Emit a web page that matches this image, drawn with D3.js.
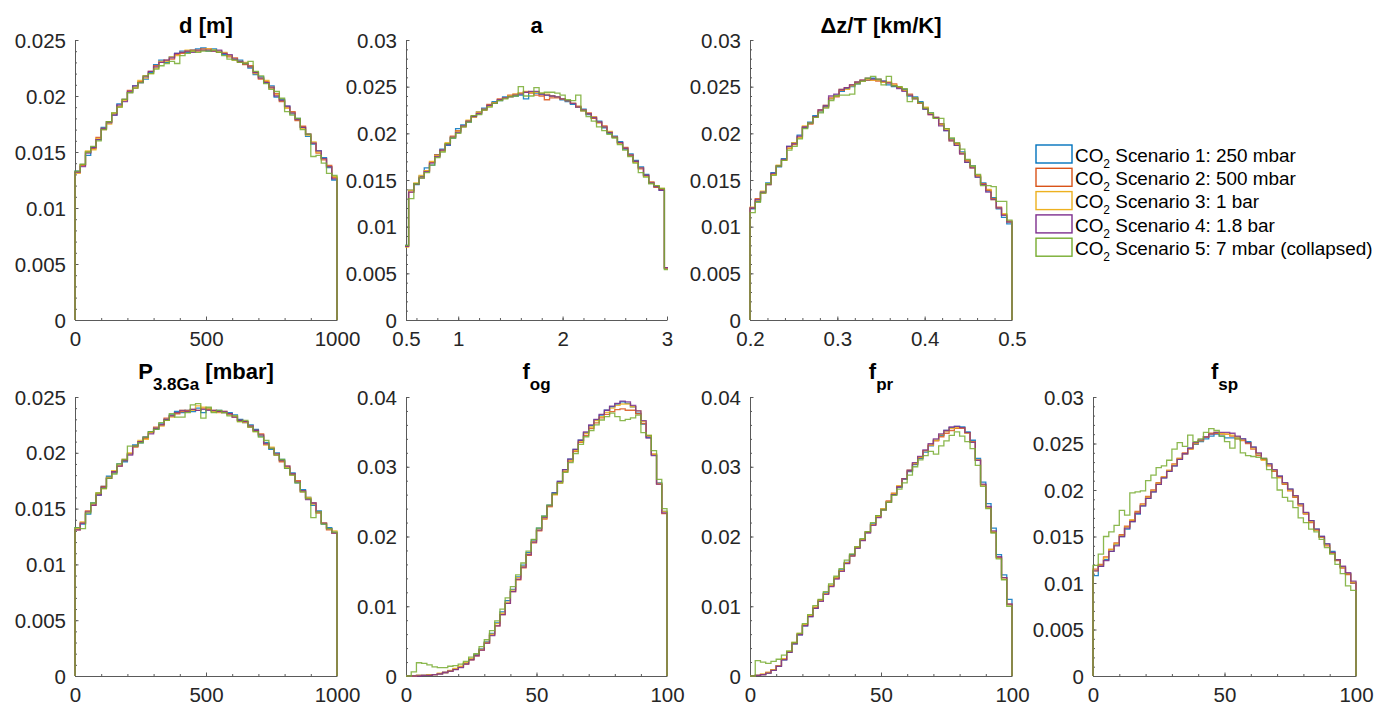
<!DOCTYPE html>
<html><head><meta charset="utf-8">
<script src="https://cdn.jsdelivr.net/npm/d3@7/dist/d3.min.js"></script>
<style>
body{margin:0;background:#fff;}
svg{display:block;font-family:"Liberation Sans",Arial,Helvetica,sans-serif;}
</style></head><body>
<svg id="chart" width="1390" height="710"></svg>
<script>
// ---------- series ----------
const seriesNames = ["Scenario 1: 250 mbar","Scenario 2: 500 mbar","Scenario 3: 1 bar","Scenario 4: 1.8 bar","Scenario 5: 7 mbar (collapsed)"];
const seriesColors = ["#0072BD","#D95319","#EDB120","#7E2F8E","#77AC30"];

// ---------- tick labels ----------
const yTicks025 = [0,0.005,0.01,0.015,0.02,0.025];
const yTicks03 = [0,0.005,0.01,0.015,0.02,0.025,0.03];
const yTicks04 = [0,0.01,0.02,0.03,0.04];
const dXTicks = [0,500,1000];
const aXTicks = [0.5,1,2,3];
const dzXTicks = [0.2,0.3,0.4,0.5];
const fXTicks = [0,50,100];

// ---------- d [m] (bins of 20 from 0) ----------
const d1 = [0.0133,0.0139,0.0147,0.0154,0.0161,0.0172,0.0177,0.0183,0.0193,0.0197,0.0203,0.0209,0.0212,0.0215,0.0221,0.0228,0.0232,0.0230,0.0235,0.0238,0.0240,0.0239,0.0241,0.0242,0.0243,0.0240,0.0242,0.0240,0.0237,0.0236,0.0233,0.0232,0.0229,0.0225,0.0219,0.0217,0.0212,0.0209,0.0199,0.0197,0.0191,0.0184,0.0180,0.0172,0.0164,0.0157,0.0151,0.0145,0.0136,0.0125];
const d2 = [0.0132,0.0138,0.0150,0.0153,0.0163,0.0170,0.0177,0.0184,0.0191,0.0197,0.0205,0.0207,0.0213,0.0218,0.0222,0.0227,0.0230,0.0232,0.0233,0.0237,0.0238,0.0240,0.0241,0.0240,0.0242,0.0242,0.0240,0.0239,0.0238,0.0235,0.0234,0.0230,0.0228,0.0227,0.0221,0.0215,0.0213,0.0207,0.0202,0.0195,0.0190,0.0186,0.0178,0.0173,0.0166,0.0158,0.0149,0.0143,0.0138,0.0127];
const d3v = [0.0131,0.0139,0.0151,0.0152,0.0162,0.0171,0.0175,0.0185,0.0190,0.0196,0.0203,0.0208,0.0214,0.0216,0.0220,0.0225,0.0231,0.0231,0.0235,0.0236,0.0239,0.0241,0.0240,0.0241,0.0241,0.0242,0.0241,0.0240,0.0239,0.0236,0.0232,0.0231,0.0230,0.0226,0.0220,0.0216,0.0214,0.0208,0.0201,0.0196,0.0189,0.0185,0.0179,0.0171,0.0165,0.0159,0.0150,0.0144,0.0137,0.0128];
const d4 = [0.0132,0.0137,0.0149,0.0154,0.0161,0.0171,0.0176,0.0183,0.0192,0.0195,0.0204,0.0209,0.0212,0.0217,0.0222,0.0226,0.0230,0.0232,0.0234,0.0238,0.0239,0.0240,0.0239,0.0241,0.0241,0.0241,0.0240,0.0241,0.0238,0.0237,0.0233,0.0231,0.0229,0.0226,0.0221,0.0216,0.0212,0.0208,0.0200,0.0196,0.0191,0.0185,0.0179,0.0172,0.0166,0.0158,0.0151,0.0144,0.0137,0.0126];
const d5 = [0.0133,0.0139,0.0150,0.0155,0.0160,0.0170,0.0177,0.0185,0.0190,0.0197,0.0203,0.0207,0.0212,0.0218,0.0220,0.0224,0.0227,0.0229,0.0231,0.0229,0.0236,0.0238,0.0240,0.0239,0.0240,0.0240,0.0241,0.0239,0.0236,0.0233,0.0232,0.0230,0.0229,0.0231,0.0222,0.0218,0.0211,0.0206,0.0204,0.0198,0.0186,0.0183,0.0180,0.0170,0.0166,0.0146,0.0147,0.0140,0.0131,0.0129];

// ---------- a (bins of 0.05 from 0.475) ----------
const a1 = [0.0080,0.0139,0.0145,0.0154,0.0163,0.0166,0.0177,0.0183,0.0187,0.0195,0.0205,0.0209,0.0212,0.0218,0.0223,0.0227,0.0230,0.0234,0.0235,0.0239,0.0240,0.0240,0.0241,0.0237,0.0244,0.0243,0.0242,0.0241,0.0240,0.0239,0.0236,0.0234,0.0231,0.0228,0.0226,0.0220,0.0216,0.0213,0.0206,0.0200,0.0197,0.0191,0.0183,0.0178,0.0171,0.0164,0.0156,0.0147,0.0143,0.0139,0.0055];
const a2 = [0.0079,0.0137,0.0146,0.0153,0.0160,0.0169,0.0177,0.0182,0.0189,0.0197,0.0203,0.0207,0.0213,0.0219,0.0222,0.0225,0.0231,0.0233,0.0237,0.0238,0.0241,0.0242,0.0243,0.0244,0.0243,0.0241,0.0240,0.0236,0.0238,0.0238,0.0237,0.0235,0.0232,0.0229,0.0224,0.0222,0.0216,0.0212,0.0208,0.0201,0.0196,0.0190,0.0185,0.0176,0.0170,0.0162,0.0155,0.0148,0.0142,0.0140,0.0056];
const a3 = [0.0078,0.0139,0.0147,0.0155,0.0160,0.0170,0.0176,0.0181,0.0190,0.0196,0.0202,0.0208,0.0214,0.0217,0.0223,0.0226,0.0229,0.0233,0.0236,0.0238,0.0240,0.0242,0.0243,0.0245,0.0244,0.0244,0.0243,0.0242,0.0240,0.0239,0.0237,0.0235,0.0232,0.0228,0.0225,0.0221,0.0218,0.0211,0.0207,0.0202,0.0196,0.0189,0.0184,0.0177,0.0169,0.0163,0.0154,0.0147,0.0144,0.0141,0.0055];
const a4 = [0.0079,0.0137,0.0146,0.0152,0.0159,0.0168,0.0175,0.0182,0.0188,0.0196,0.0201,0.0208,0.0213,0.0218,0.0221,0.0226,0.0230,0.0232,0.0236,0.0238,0.0239,0.0241,0.0242,0.0244,0.0245,0.0245,0.0242,0.0241,0.0240,0.0239,0.0237,0.0235,0.0232,0.0228,0.0225,0.0221,0.0217,0.0212,0.0207,0.0201,0.0196,0.0190,0.0184,0.0177,0.0170,0.0163,0.0155,0.0147,0.0143,0.0139,0.0056];
const a5 = [0.0080,0.0130,0.0146,0.0152,0.0158,0.0166,0.0174,0.0180,0.0189,0.0195,0.0200,0.0207,0.0212,0.0219,0.0220,0.0225,0.0228,0.0232,0.0235,0.0237,0.0239,0.0240,0.0250,0.0240,0.0240,0.0249,0.0243,0.0244,0.0244,0.0243,0.0241,0.0236,0.0235,0.0241,0.0224,0.0218,0.0213,0.0207,0.0203,0.0199,0.0195,0.0188,0.0182,0.0175,0.0168,0.0158,0.0153,0.0146,0.0144,0.0141,0.0054];

// ---------- Δz/T (bins of 0.006 from 0.2) ----------
const dz1 = [0.0119,0.0127,0.0137,0.0147,0.0158,0.0164,0.0173,0.0186,0.0190,0.0198,0.0206,0.0212,0.0219,0.0223,0.0229,0.0237,0.0241,0.0245,0.0248,0.0250,0.0253,0.0256,0.0257,0.0259,0.0257,0.0256,0.0252,0.0250,0.0249,0.0247,0.0240,0.0239,0.0234,0.0226,0.0222,0.0216,0.0210,0.0203,0.0194,0.0187,0.0180,0.0169,0.0165,0.0153,0.0147,0.0138,0.0131,0.0119,0.0110,0.0103];
const dz2 = [0.0120,0.0130,0.0136,0.0145,0.0156,0.0165,0.0171,0.0184,0.0188,0.0196,0.0207,0.0210,0.0218,0.0225,0.0228,0.0238,0.0239,0.0246,0.0249,0.0252,0.0254,0.0257,0.0257,0.0257,0.0256,0.0255,0.0254,0.0253,0.0249,0.0246,0.0242,0.0238,0.0232,0.0227,0.0220,0.0217,0.0210,0.0205,0.0193,0.0189,0.0178,0.0171,0.0163,0.0155,0.0146,0.0139,0.0130,0.0121,0.0113,0.0106];
const dz3 = [0.0121,0.0128,0.0138,0.0146,0.0156,0.0166,0.0171,0.0184,0.0190,0.0195,0.0208,0.0211,0.0217,0.0224,0.0230,0.0237,0.0240,0.0247,0.0247,0.0251,0.0255,0.0256,0.0258,0.0257,0.0257,0.0255,0.0255,0.0252,0.0250,0.0246,0.0241,0.0237,0.0233,0.0228,0.0221,0.0216,0.0209,0.0204,0.0192,0.0188,0.0179,0.0170,0.0164,0.0154,0.0145,0.0140,0.0129,0.0120,0.0114,0.0105];
const dz4 = [0.0120,0.0129,0.0137,0.0145,0.0157,0.0165,0.0172,0.0186,0.0189,0.0197,0.0207,0.0211,0.0218,0.0225,0.0230,0.0240,0.0242,0.0247,0.0249,0.0252,0.0255,0.0257,0.0259,0.0258,0.0258,0.0256,0.0254,0.0251,0.0248,0.0245,0.0241,0.0237,0.0233,0.0226,0.0220,0.0217,0.0208,0.0203,0.0192,0.0187,0.0178,0.0169,0.0163,0.0153,0.0145,0.0137,0.0129,0.0120,0.0112,0.0105];
const dz5 = [0.0115,0.0126,0.0136,0.0146,0.0155,0.0165,0.0171,0.0182,0.0186,0.0194,0.0205,0.0211,0.0217,0.0222,0.0227,0.0235,0.0240,0.0241,0.0241,0.0242,0.0253,0.0256,0.0259,0.0261,0.0258,0.0252,0.0261,0.0251,0.0250,0.0248,0.0234,0.0238,0.0233,0.0227,0.0222,0.0216,0.0216,0.0205,0.0195,0.0190,0.0183,0.0172,0.0165,0.0156,0.0144,0.0144,0.0143,0.0127,0.0127,0.0107];

// ---------- P3.8Ga (bins of 20 from 0) ----------
const p1 = [0.0133,0.0136,0.0145,0.0155,0.0162,0.0170,0.0179,0.0182,0.0190,0.0192,0.0199,0.0207,0.0209,0.0214,0.0219,0.0221,0.0226,0.0230,0.0234,0.0237,0.0236,0.0238,0.0237,0.0240,0.0236,0.0240,0.0237,0.0238,0.0236,0.0236,0.0234,0.0230,0.0227,0.0225,0.0221,0.0215,0.0209,0.0203,0.0200,0.0194,0.0186,0.0182,0.0173,0.0167,0.0160,0.0153,0.0148,0.0136,0.0133,0.0129];
const p2 = [0.0131,0.0137,0.0148,0.0153,0.0163,0.0170,0.0177,0.0183,0.0188,0.0194,0.0199,0.0205,0.0210,0.0213,0.0218,0.0223,0.0225,0.0231,0.0233,0.0235,0.0237,0.0238,0.0239,0.0238,0.0240,0.0239,0.0238,0.0237,0.0236,0.0235,0.0232,0.0229,0.0228,0.0223,0.0220,0.0217,0.0208,0.0204,0.0198,0.0192,0.0188,0.0181,0.0175,0.0165,0.0159,0.0155,0.0146,0.0137,0.0131,0.0128];
const p3 = [0.0132,0.0138,0.0147,0.0154,0.0164,0.0168,0.0178,0.0184,0.0189,0.0193,0.0200,0.0206,0.0211,0.0212,0.0218,0.0222,0.0224,0.0229,0.0232,0.0236,0.0238,0.0237,0.0238,0.0242,0.0241,0.0240,0.0237,0.0236,0.0237,0.0234,0.0233,0.0228,0.0227,0.0224,0.0219,0.0216,0.0207,0.0205,0.0199,0.0193,0.0187,0.0180,0.0174,0.0166,0.0160,0.0154,0.0147,0.0137,0.0132,0.0130];
const p4 = [0.0131,0.0137,0.0147,0.0153,0.0162,0.0169,0.0177,0.0183,0.0188,0.0193,0.0198,0.0206,0.0210,0.0214,0.0217,0.0222,0.0225,0.0230,0.0233,0.0236,0.0238,0.0237,0.0239,0.0238,0.0239,0.0238,0.0238,0.0237,0.0237,0.0235,0.0232,0.0229,0.0228,0.0224,0.0220,0.0216,0.0208,0.0204,0.0199,0.0193,0.0188,0.0181,0.0174,0.0166,0.0158,0.0155,0.0147,0.0137,0.0132,0.0128];
const p5 = [0.0133,0.0132,0.0146,0.0155,0.0164,0.0168,0.0177,0.0181,0.0190,0.0194,0.0206,0.0206,0.0209,0.0214,0.0219,0.0221,0.0227,0.0229,0.0235,0.0232,0.0232,0.0236,0.0243,0.0244,0.0231,0.0241,0.0236,0.0238,0.0236,0.0233,0.0233,0.0228,0.0229,0.0223,0.0219,0.0214,0.0211,0.0204,0.0198,0.0194,0.0186,0.0180,0.0173,0.0165,0.0159,0.0142,0.0147,0.0136,0.0132,0.0129];

// ---------- f_og (bins of 2 from 0) ----------
const og1 = [0,0,0.0001,0.0001,0.0002,0.0002,0.0003,0.0005,0.0007,0.0010,0.0013,0.0018,0.0024,0.0031,0.0039,0.0049,0.0061,0.0076,0.0092,0.0108,0.0124,0.0142,0.0159,0.0177,0.0195,0.0212,0.0229,0.0245,0.0263,0.0279,0.0296,0.0311,0.0325,0.0338,0.0349,0.0359,0.0367,0.0374,0.0381,0.0386,0.0390,0.0393,0.0391,0.0386,0.0377,0.0361,0.0342,0.0317,0.0277,0.0236];
const og2 = [0,0,0.0001,0.0001,0.0001,0.0002,0.0003,0.0005,0.0007,0.0010,0.0013,0.0017,0.0023,0.0029,0.0037,0.0047,0.0059,0.0072,0.0088,0.0104,0.0121,0.0138,0.0155,0.0173,0.0191,0.0208,0.0225,0.0243,0.0260,0.0277,0.0293,0.0308,0.0322,0.0335,0.0345,0.0355,0.0363,0.0370,0.0375,0.0379,0.0382,0.0383,0.0381,0.0381,0.0376,0.0362,0.0344,0.0318,0.0275,0.0233];
const og3 = [0,0,0.0001,0.0001,0.0002,0.0002,0.0004,0.0005,0.0008,0.0011,0.0014,0.0019,0.0025,0.0030,0.0038,0.0048,0.0060,0.0075,0.0090,0.0106,0.0123,0.0141,0.0157,0.0175,0.0193,0.0209,0.0226,0.0243,0.0260,0.0277,0.0294,0.0309,0.0323,0.0336,0.0348,0.0357,0.0366,0.0372,0.0378,0.0384,0.0388,0.0390,0.0390,0.0386,0.0380,0.0365,0.0345,0.0318,0.0276,0.0236];
const og4 = [0,0,0,0.0001,0.0001,0.0002,0.0003,0.0005,0.0007,0.0009,0.0012,0.0017,0.0023,0.0029,0.0037,0.0047,0.0058,0.0072,0.0088,0.0104,0.0121,0.0139,0.0156,0.0174,0.0192,0.0209,0.0227,0.0244,0.0262,0.0279,0.0296,0.0311,0.0325,0.0338,0.0350,0.0360,0.0368,0.0375,0.0381,0.0387,0.0391,0.0394,0.0393,0.0388,0.0380,0.0366,0.0341,0.0316,0.0275,0.0234];
const og5 = [0,0.0006,0.0019,0.0018,0.0016,0.0013,0.0012,0.0012,0.0014,0.0015,0.0017,0.0021,0.0027,0.0032,0.0042,0.0052,0.0065,0.0079,0.0096,0.0112,0.0128,0.0145,0.0162,0.0179,0.0196,0.0212,0.0229,0.0245,0.0261,0.0277,0.0292,0.0306,0.0319,0.0332,0.0343,0.0352,0.0360,0.0367,0.0372,0.0377,0.0372,0.0366,0.0368,0.0370,0.0374,0.0349,0.0345,0.0323,0.0282,0.0240];

// ---------- f_pr (bins of 2 from 0) ----------
const pr1 = [0,0.0001,0.0002,0.0004,0.0008,0.0014,0.0023,0.0034,0.0046,0.0059,0.0072,0.0085,0.0097,0.0108,0.0119,0.0130,0.0141,0.0152,0.0163,0.0174,0.0185,0.0196,0.0207,0.0218,0.0230,0.0240,0.0250,0.0260,0.0271,0.0282,0.0293,0.0303,0.0312,0.0321,0.0330,0.0338,0.0345,0.0352,0.0356,0.0358,0.0357,0.0350,0.0338,0.0312,0.0278,0.0247,0.0212,0.0174,0.0145,0.0110];
const pr2 = [0,0.0001,0.0002,0.0005,0.0009,0.0015,0.0024,0.0035,0.0047,0.0060,0.0073,0.0086,0.0098,0.0109,0.0118,0.0129,0.0140,0.0151,0.0162,0.0173,0.0184,0.0195,0.0206,0.0217,0.0228,0.0239,0.0251,0.0262,0.0272,0.0283,0.0294,0.0304,0.0313,0.0323,0.0331,0.0337,0.0343,0.0348,0.0352,0.0355,0.0355,0.0349,0.0336,0.0310,0.0274,0.0242,0.0206,0.0170,0.0141,0.0103];
const pr3 = [0,0.0001,0.0003,0.0005,0.0009,0.0015,0.0025,0.0035,0.0048,0.0061,0.0074,0.0087,0.0099,0.0108,0.0118,0.0130,0.0141,0.0151,0.0162,0.0172,0.0185,0.0195,0.0207,0.0217,0.0229,0.0240,0.0250,0.0261,0.0273,0.0283,0.0295,0.0305,0.0314,0.0323,0.0331,0.0338,0.0346,0.0351,0.0355,0.0356,0.0356,0.0348,0.0335,0.0309,0.0274,0.0241,0.0207,0.0169,0.0139,0.0102];
const pr4 = [0,0.0001,0.0002,0.0004,0.0008,0.0014,0.0023,0.0034,0.0046,0.0059,0.0072,0.0085,0.0097,0.0107,0.0117,0.0128,0.0139,0.0150,0.0161,0.0172,0.0183,0.0194,0.0205,0.0216,0.0227,0.0238,0.0249,0.0260,0.0271,0.0283,0.0295,0.0306,0.0315,0.0324,0.0333,0.0340,0.0347,0.0352,0.0357,0.0358,0.0356,0.0349,0.0335,0.0309,0.0275,0.0243,0.0208,0.0171,0.0141,0.0103];
const pr5 = [0,0.0022,0.0020,0.0018,0.0021,0.0024,0.0030,0.0036,0.0048,0.0061,0.0075,0.0088,0.0101,0.0110,0.0121,0.0132,0.0143,0.0154,0.0166,0.0175,0.0185,0.0197,0.0207,0.0220,0.0230,0.0238,0.0249,0.0259,0.0268,0.0277,0.0288,0.0300,0.0310,0.0316,0.0322,0.0318,0.0330,0.0337,0.0345,0.0350,0.0344,0.0336,0.0326,0.0302,0.0272,0.0240,0.0205,0.0168,0.0138,0.0100];

// ---------- f_sp (bins of 2 from 0) ----------
const sp1 = [0.0108,0.0118,0.0125,0.0134,0.0141,0.0150,0.0158,0.0166,0.0174,0.0183,0.0191,0.0198,0.0206,0.0213,0.0220,0.0226,0.0233,0.0239,0.0245,0.0249,0.0252,0.0255,0.0258,0.0260,0.0258,0.0256,0.0256,0.0257,0.0255,0.0252,0.0246,0.0239,0.0233,0.0228,0.0221,0.0215,0.0207,0.0201,0.0193,0.0185,0.0175,0.0167,0.0158,0.0150,0.0142,0.0134,0.0125,0.0117,0.0110,0.0100];
const sp2 = [0.0115,0.0120,0.0128,0.0136,0.0143,0.0152,0.0161,0.0167,0.0177,0.0185,0.0193,0.0200,0.0208,0.0214,0.0221,0.0228,0.0234,0.0240,0.0244,0.0250,0.0253,0.0257,0.0261,0.0261,0.0260,0.0260,0.0258,0.0255,0.0253,0.0250,0.0244,0.0237,0.0233,0.0226,0.0220,0.0214,0.0206,0.0199,0.0192,0.0183,0.0174,0.0165,0.0157,0.0149,0.0140,0.0132,0.0124,0.0116,0.0109,0.0100];
const sp3 = [0.0113,0.0119,0.0127,0.0136,0.0142,0.0151,0.0160,0.0168,0.0176,0.0184,0.0192,0.0199,0.0207,0.0214,0.0221,0.0227,0.0234,0.0239,0.0244,0.0250,0.0253,0.0257,0.0260,0.0262,0.0261,0.0260,0.0259,0.0257,0.0254,0.0251,0.0245,0.0239,0.0232,0.0227,0.0221,0.0213,0.0207,0.0200,0.0193,0.0184,0.0175,0.0166,0.0157,0.0149,0.0141,0.0132,0.0125,0.0117,0.0110,0.0101];
const sp4 = [0.0113,0.0118,0.0124,0.0134,0.0140,0.0150,0.0159,0.0166,0.0175,0.0183,0.0191,0.0198,0.0206,0.0213,0.0220,0.0226,0.0233,0.0239,0.0245,0.0251,0.0254,0.0257,0.0260,0.0262,0.0262,0.0262,0.0261,0.0258,0.0255,0.0251,0.0246,0.0240,0.0234,0.0228,0.0222,0.0215,0.0208,0.0201,0.0194,0.0185,0.0176,0.0167,0.0158,0.0150,0.0142,0.0133,0.0125,0.0118,0.0111,0.0102];
const sp5 = [0.0119,0.0131,0.0150,0.0155,0.0162,0.0178,0.0173,0.0197,0.0198,0.0199,0.0210,0.0216,0.0224,0.0226,0.0232,0.0244,0.0251,0.0247,0.0259,0.0252,0.0255,0.0262,0.0266,0.0264,0.0258,0.0252,0.0245,0.0255,0.0240,0.0237,0.0236,0.0235,0.0234,0.0222,0.0213,0.0200,0.0192,0.0188,0.0181,0.0170,0.0165,0.0158,0.0155,0.0147,0.0138,0.0131,0.0120,0.0110,0.0097,0.0092];

// ---------- panel layout (options table) ----------
const panels = [
  {title:[["d [m]",0]], box:[75,337,40,320], x:[0,1000], y:[0,0.025], b0:0, bw:20, s:[d1,d2,d3v,d4,d5], xt:dXTicks, xm:[0,1000,100], yt:yTicks025, ym:0.001},
  {title:[["a",0]], box:[406,667,40,320], x:[0.5,3], y:[0,0.03], b0:0.475, bw:0.05, s:[a1,a2,a3,a4,a5], xt:aXTicks, xm:[0.6,2.8,0.2], yt:yTicks03, ym:0.001},
  {title:[["Δz/T [km/K]",0]], box:[750,1012,40,320], x:[0.2,0.5], y:[0,0.03], b0:0.2, bw:0.006, s:[dz1,dz2,dz3,dz4,dz5], xt:dzXTicks, xm:[0.2,0.5,0.02], yt:yTicks03, ym:0.001},
  {title:[["P",0],["3.8Ga",1],[" [mbar]",0]], box:[75,337,397,676], x:[0,1000], y:[0,0.025], b0:0, bw:20, s:[p1,p2,p3,p4,p5], xt:dXTicks, xm:[0,1000,100], yt:yTicks025, ym:0.001},
  {title:[["f",0],["og",1]], box:[406,667,397,676], x:[0,100], y:[0,0.04], b0:0, bw:2, s:[og1,og2,og3,og4,og5], xt:fXTicks, xm:[0,100,10], yt:yTicks04, ym:0.002},
  {title:[["f",0],["pr",1]], box:[750,1012,397,676], x:[0,100], y:[0,0.04], b0:0, bw:2, s:[pr1,pr2,pr3,pr4,pr5], xt:fXTicks, xm:[0,100,10], yt:yTicks04, ym:0.002},
  {title:[["f",0],["sp",1]], box:[1093,1356,397,676], x:[0,100], y:[0,0.03], b0:0, bw:2, s:[sp1,sp2,sp3,sp4,sp5], xt:fXTicks, xm:[0,100,10], yt:yTicks03, ym:0.001}
];

const svg = d3.select("#chart");
const axisColor = "#5a5a5a";
const labelColor = "#262626";
const FS = 20.5;

panels.forEach((p, pi) => {
  const [x0, x1, yT, yB] = p.box;
  const xs = d3.scaleLinear().domain(p.x).range([x0, x1]);
  const ys = d3.scaleLinear().domain(p.y).range([yB, yT]);
  const g = svg.append("g");

  const clipId = "clip" + pi;
  svg.append("clipPath").attr("id", clipId).append("rect")
    .attr("x", x0 - 1).attr("y", yT - 2).attr("width", x1 - x0 + 2).attr("height", yB - yT + 3);

  // minor ticks
  const xMinor = d3.range(p.xm[0], p.xm[1] + p.xm[2] / 2, p.xm[2]);
  const yMinor = d3.range(0, p.y[1] + p.ym / 2, p.ym);
  const gxm = g.append("g").attr("transform", `translate(0,${yB})`)
    .call(d3.axisBottom(xs).tickValues(xMinor).tickSize(-2).tickSizeOuter(0).tickFormat(""));
  const gym = g.append("g").attr("transform", `translate(${x0},0)`)
    .call(d3.axisLeft(ys).tickValues(yMinor).tickSize(-2).tickSizeOuter(0).tickFormat(""));
  [gxm, gym].forEach(a => { a.select(".domain").remove(); a.selectAll("line").attr("stroke", axisColor); });

  // major axes
  const gx = g.append("g").attr("transform", `translate(0,${yB})`)
    .call(d3.axisBottom(xs).tickValues(p.xt).tickSize(-3.5).tickSizeOuter(0).tickPadding(11).tickFormat(d => String(d)));
  const gy = g.append("g").attr("transform", `translate(${x0},0)`)
    .call(d3.axisLeft(ys).tickValues(p.yt).tickSize(-3.5).tickSizeOuter(0).tickPadding(9).tickFormat(d => String(d)));
  [gx, gy].forEach(a => {
    a.select(".domain").attr("stroke", axisColor);
    a.selectAll("line").attr("stroke", axisColor);
    a.selectAll("text").attr("fill", labelColor).attr("font-size", FS)
      .attr("font-family", '"Liberation Sans",Arial,Helvetica,sans-serif');
  });
  gy.selectAll("text").attr("dy", "0.35em");
  gx.selectAll("text").attr("dy", "0.71em");

  // histograms (stairs)
  const line = d3.line().x(d => xs(d[0])).y(d => ys(d[1])).curve(d3.curveStepAfter);
  const hg = g.append("g").attr("clip-path", `url(#${clipId})`);
  p.s.forEach((vals, si) => {
    const pts = [[p.b0, 0]];
    vals.forEach((v, i) => pts.push([p.b0 + i * p.bw, v]));
    const end = p.b0 + vals.length * p.bw;
    pts.push([end, vals[vals.length - 1]]);
    pts.push([end, 0]);
    hg.append("path").attr("d", line(pts)).attr("fill", "none")
      .attr("stroke", seriesColors[si]).attr("stroke-width", 1.3).attr("stroke-opacity", 0.85);
  });

  // title
  const hasSub = p.title.some(t => t[1] === 1);
  const t = g.append("text").attr("x", (x0 + x1) / 2).attr("y", hasSub ? yT - 18 : yT - 7)
    .attr("text-anchor", "middle").attr("font-weight", "bold").attr("font-size", 22).attr("fill", "#000");
  let shifted = false;
  p.title.forEach(([txt, sub]) => {
    const ts = t.append("tspan").text(txt);
    if (sub && !shifted) { ts.attr("dy", 11).attr("font-size", 17); shifted = true; }
    else if (!sub && shifted) { ts.attr("dy", -11).attr("font-size", 22); shifted = false; }
    else if (sub) ts.attr("font-size", 17);
  });
});

// legend
const lg = svg.append("g");
seriesNames.forEach((name, i) => {
  const top = 145 + i * 23.3;
  lg.append("rect").attr("x", 1036).attr("y", top).attr("width", 36).attr("height", 18)
    .attr("fill", "#fff").attr("stroke", seriesColors[i]).attr("stroke-width", 1.4);
  const tx = lg.append("text").attr("x", 1075).attr("y", top + 16.7)
    .attr("font-size", 18.9).attr("fill", "#000");
  tx.append("tspan").text("CO");
  tx.append("tspan").text("2").attr("font-size", 12).attr("dy", 6);
  tx.append("tspan").text(" " + name).attr("font-size", 18.9).attr("dy", -6);
});
</script>
</body></html>
